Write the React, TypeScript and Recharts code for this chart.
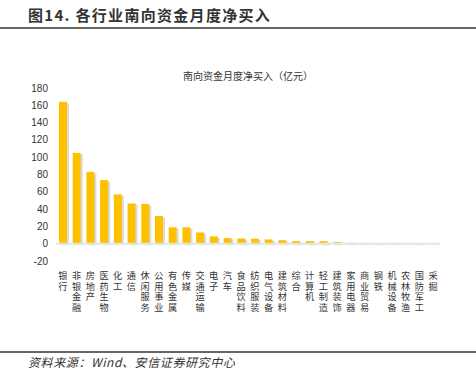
import React from "react";
import { BarChart, Bar, XAxis, YAxis, ReferenceLine } from "recharts";

const categories = ["银行","非银金融","房地产","医药生物","化工","通信","休闲服务","公用事业","有色金属","传媒","交通运输","电子","汽车","食品饮料","纺织服装","电气设备","建筑材料","综合","计算机","轻工制造","建筑装饰","家用电器","商业贸易","钢铁","机械设备","农林牧渔","国防军工","采掘"];
const values = [164,105,83,73.5,57,46.5,46,32,19,19,13,8.5,6.5,6,5.8,5,4,3,3,3,2,1,0.5,0.3,0.3,0.2,0.2,0.1];
const yTicks = [-20,0,20,40,60,80,100,120,140,160,180];

const data = categories.map((name, i) => ({ name, value: values[i] }));

const CJK = '"Noto Sans CJK SC", "Liberation Sans", sans-serif';
const TICKFONT = '"Liberation Sans", "Noto Sans CJK SC", sans-serif';

const CatTick = (props: any) => {
  const { x, y, payload } = props;
  const chars = String(payload.value).split("");
  return (
    <g>
      {chars.map((c, i) => (
        <text key={i} x={x} y={y + 10 + i * 10.6} textAnchor="middle" fontSize={9.2} fill="#333" fontFamily={TICKFONT}>
          {c}
        </text>
      ))}
    </g>
  );
};

const ShadowBar = (props: any) => {
  const { x, y, width, height } = props;
  if (height == null || width == null) return null;
  return (
    <g>
      <rect x={x + 2} y={y + 1.5} width={width} height={Math.max(height, 0)} fill="#bdbdbd" opacity={0.55} />
      <rect x={x} y={y} width={width} height={Math.max(height, 0)} fill="#FFC000" />
    </g>
  );
};

export default function App() {
  return (
    <div style={{ position: "absolute", left: 0, top: 0, width: 476, height: 382, background: "#fff", fontFamily: CJK }}>
      <div style={{ position: "absolute", left: 28, top: 4, fontSize: 15, fontWeight: 700, color: "#333", letterSpacing: 1.3, whiteSpace: "nowrap" }}>
        图14. 各行业南向资金月度净买入
      </div>
      <div style={{ position: "absolute", left: 0, top: 27, width: 476, height: 2, background: "#666" }} />
      <div style={{ position: "absolute", left: 20, top: 68, width: 456, textAlign: "center", fontSize: 10, color: "#333", whiteSpace: "nowrap" }}>
        南向资金月度净买入（亿元）
      </div>
      <BarChart
        width={476}
        height={382}
        data={data}
        margin={{ top: 88, right: 36, bottom: 61, left: 4 }}
        style={{ position: "absolute", left: 0, top: 0 }}
      >
        <YAxis
          domain={[-20, 180]}
          ticks={yTicks}
          interval={0}
          axisLine={false}
          tickLine={false}
          width={52}
          tick={{ fontSize: 10, fill: "#333", fontFamily: '"Liberation Sans", sans-serif' }}
        />
        <XAxis
          dataKey="name"
          interval={0}
          axisLine={false}
          tickLine={false}
          height={60}
          tick={<CatTick />}
        />
        <ReferenceLine y={0} stroke="#e4e4e4" strokeWidth={2} />
        <Bar dataKey="value" barSize={8} shape={<ShadowBar />} isAnimationActive={false} />
      </BarChart>
      <div style={{ position: "absolute", left: 0, top: 351, width: 476, height: 2, background: "#666" }} />
      <div style={{ position: "absolute", left: 28, top: 353, fontSize: 12, fontStyle: "italic", color: "#333", letterSpacing: 0.6, whiteSpace: "nowrap" }}>
        资料来源：Wind、安信证券研究中心
      </div>
    </div>
  );
}
